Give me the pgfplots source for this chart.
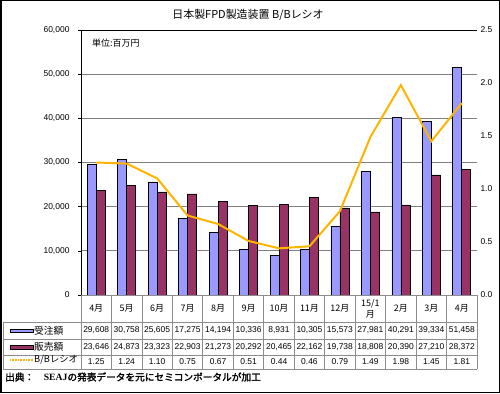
\documentclass[border=0pt]{standalone}
\usepackage{fontspec}
\setmainfont{Liberation Sans}
\newfontfamily\jp{Noto Sans CJK JP}
\newfontfamily\jpb[FakeBold=2]{Noto Sans CJK JP}
\newfontfamily\serifb{Liberation Serif}
\usepackage{pgfplots}
\pgfplotsset{compat=1.18}
\definecolor{ordc}{HTML}{9999FF}
\definecolor{salc}{HTML}{993366}
\definecolor{bbc}{HTML}{FFB400}
\definecolor{gridc}{HTML}{808080}
\definecolor{tabc}{HTML}{8C8C8C}

\pgfplotstableread{
x orders sales
0 29608 23646
1 30758 24873
2 25605 23323
3 17275 22903
4 14194 21273
5 10336 20292
6 8931 20465
7 10305 22162
8 15573 19738
9 27981 18808
10 40291 20390
11 39334 27210
12 51458 28372
}\amounts
\pgfplotstableread{
x bb
0 1.25
1 1.24
2 1.10
3 0.75
4 0.67
5 0.51
6 0.44
7 0.46
8 0.79
9 1.49
10 1.98
11 1.45
12 1.81
}\ratio

\begin{document}
\begin{tikzpicture}[x=1bp,y=1bp]
\fill[white] (0,0) rectangle (500,393);
\draw[black,line width=1.5bp] (0.75,0.75) rectangle (499.25,392.25);
\begin{axis}[
  at={(81bp,98bp)}, anchor=south west, scale only axis,
  width=396bp, height=265bp,
  xmin=-0.5, xmax=12.5, ymin=0, ymax=60000,
  axis x line=none, axis y line*=left,
  y axis line style={black, line width=0.8bp},
  ytick={0,10000,...,60000},
  scaled y ticks=false,
  ymajorgrids, major grid style={gridc, line width=0.8bp},
  tick align=outside, major tick length=3bp,
  tick style={black, line width=0.6bp},
  /pgf/number format/assume math mode=true,
  /pgf/number format/1000 sep={,},
  yticklabel style={font=\fontsize{8.5}{10}\selectfont, xshift=-5bp},
  clip=false,
]
\addplot[ybar, bar width=9bp, bar shift=-4.5bp, fill=ordc, draw=black, line width=0.6bp] table[x=x, y=orders] {\amounts};
\addplot[ybar, bar width=9bp, bar shift=4.5bp, fill=salc, draw=black, line width=0.6bp] table[x=x, y=sales] {\amounts};
\draw[black, line width=0.8bp] (rel axis cs:0,1) -- (rel axis cs:1,1);
\end{axis}
\begin{axis}[
  at={(81bp,98bp)}, anchor=south west, scale only axis,
  width=396bp, height=265bp,
  xmin=-0.5, xmax=12.5, ymin=0, ymax=2.5,
  axis x line=none, axis y line*=right,
  y axis line style={draw=none},
  ytick={0,0.5,...,2.5},
  major tick length=0pt,
  /pgf/number format/assume math mode=true,
  yticklabel style={font=\fontsize{8.5}{10}\selectfont, /pgf/number format/.cd, fixed, fixed zerofill, precision=1},
  clip=false,
]
\addplot[bbc, line width=2bp] table[x=x, y=bb] {\ratio};
\end{axis}
% data table
\begin{scope}[tabc, line width=0.8bp]
\draw (81,98) -- (477,98);
\foreach \yy in {71,54,38,24} \draw (3,\yy) -- (477,\yy);
\foreach \k in {0,...,13} \draw ({81+30.4615*\k},98) -- ({81+30.4615*\k},24);
\draw (3,71) -- (3,24);
\end{scope}
\foreach \c [count=\i from 0] in {4月,5月,6月,7月,8月,9月,10月,11月,12月,{15/1\\月},2月,3月,4月}
  \node[align=center, font=\jp\fontsize{9}{11}\selectfont, inner sep=0pt] at ({81+30.4615*(\i+0.5)},84.5) {\c};
\foreach \v [count=\i from 0] in {{29,608},{30,758},{25,605},{17,275},{14,194},{10,336},{8,931},{10,305},{15,573},{27,981},{40,291},{39,334},{51,458}}
  \node[font=\fontsize{8.5}{10}\selectfont, inner sep=0pt] at ({81+30.4615*(\i+0.5)},62.5) {\v};
\foreach \v [count=\i from 0] in {{23,646},{24,873},{23,323},{22,903},{21,273},{20,292},{20,465},{22,162},{19,738},{18,808},{20,390},{27,210},{28,372}}
  \node[font=\fontsize{8.5}{10}\selectfont, inner sep=0pt] at ({81+30.4615*(\i+0.5)},46) {\v};
\foreach \v [count=\i from 0] in {1.25,1.24,1.10,0.75,0.67,0.51,0.44,0.46,0.79,1.49,1.98,1.45,1.81}
  \node[font=\fontsize{8.5}{10}\selectfont, inner sep=0pt] at ({81+30.4615*(\i+0.5)},31) {\v};
% legend column
\draw[fill=ordc, draw=black, line width=0.6bp] (10,60.7) rectangle (33,64);
\node[anchor=west, font=\jp\fontsize{9.8}{11}\selectfont, inner sep=0pt] at (34,62.5) {受注額};
\draw[fill=salc, draw=black, line width=0.6bp] (10,44.2) rectangle (33,47.5);
\node[anchor=west, font=\jp\fontsize{9.8}{11}\selectfont, inner sep=0pt] at (34,46) {販売額};
\draw[bbc, line width=2bp, dash pattern=on 1bp off 0.6bp] (10,33) -- (33,33);
\node[anchor=west, font=\jp\fontsize{9.3}{11}\selectfont, inner sep=0pt] at (34,33) {B/Bレシオ};
% texts
\node[font=\jp\fontsize{11}{13}\selectfont, inner sep=0pt] at (248,378) {日本製FPD製造装置 B/Bレシオ};
\node[anchor=west, font=\jp\fontsize{9}{11}\selectfont, inner sep=0pt] at (92,350) {単位:百万円};
\node[anchor=west, font=\jpb\fontsize{9.7}{11}\selectfont, inner sep=0pt] at (5,16) {出典：　{\serifb\bfseries SEAJ}の発表データを元にセミコンポータルが加工};
\end{tikzpicture}
\end{document}
